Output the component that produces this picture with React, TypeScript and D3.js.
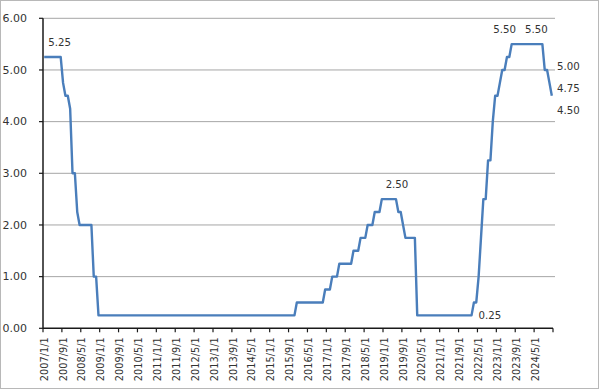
import React, { Component } from "react";
import * as d3 from "d3";

// month-end policy rate (upper bound), one array per year
const rates2007 = [5.25, 5.25, 5.25, 5.25, 5.25, 5.25, 5.25, 5.25, 4.75, 4.5, 4.5, 4.25];
const rates2008 = [3.0, 3.0, 2.25, 2.0, 2.0, 2.0, 2.0, 2.0, 2.0, 1.0, 1.0, 0.25];
const rates2009 = [0.25, 0.25, 0.25, 0.25, 0.25, 0.25, 0.25, 0.25, 0.25, 0.25, 0.25, 0.25];
const rates2010 = [0.25, 0.25, 0.25, 0.25, 0.25, 0.25, 0.25, 0.25, 0.25, 0.25, 0.25, 0.25];
const rates2011 = [0.25, 0.25, 0.25, 0.25, 0.25, 0.25, 0.25, 0.25, 0.25, 0.25, 0.25, 0.25];
const rates2012 = [0.25, 0.25, 0.25, 0.25, 0.25, 0.25, 0.25, 0.25, 0.25, 0.25, 0.25, 0.25];
const rates2013 = [0.25, 0.25, 0.25, 0.25, 0.25, 0.25, 0.25, 0.25, 0.25, 0.25, 0.25, 0.25];
const rates2014 = [0.25, 0.25, 0.25, 0.25, 0.25, 0.25, 0.25, 0.25, 0.25, 0.25, 0.25, 0.25];
const rates2015 = [0.25, 0.25, 0.25, 0.25, 0.25, 0.25, 0.25, 0.25, 0.25, 0.25, 0.25, 0.5];
const rates2016 = [0.5, 0.5, 0.5, 0.5, 0.5, 0.5, 0.5, 0.5, 0.5, 0.5, 0.5, 0.75];
const rates2017 = [0.75, 0.75, 1.0, 1.0, 1.0, 1.25, 1.25, 1.25, 1.25, 1.25, 1.25, 1.5];
const rates2018 = [1.5, 1.5, 1.75, 1.75, 1.75, 2.0, 2.0, 2.0, 2.25, 2.25, 2.25, 2.5];
const rates2019 = [2.5, 2.5, 2.5, 2.5, 2.5, 2.5, 2.25, 2.25, 2.0, 1.75, 1.75, 1.75];
const rates2020 = [1.75, 1.75, 0.25, 0.25, 0.25, 0.25, 0.25, 0.25, 0.25, 0.25, 0.25, 0.25];
const rates2021 = [0.25, 0.25, 0.25, 0.25, 0.25, 0.25, 0.25, 0.25, 0.25, 0.25, 0.25, 0.25];
const rates2022 = [0.25, 0.25, 0.5, 0.5, 1.0, 1.75, 2.5, 2.5, 3.25, 3.25, 4.0, 4.5];
const rates2023 = [4.5, 4.75, 5.0, 5.0, 5.25, 5.25, 5.5, 5.5, 5.5, 5.5, 5.5, 5.5];
const rates2024 = [5.5, 5.5, 5.5, 5.5, 5.5, 5.5, 5.5, 5.5, 5.0, 5.0, 4.75, 4.5];

const years = [2007, 2008, 2009, 2010, 2011, 2012, 2013, 2014, 2015, 2016, 2017, 2018, 2019, 2020, 2021, 2022, 2023, 2024];
const yearlyRates = [rates2007, rates2008, rates2009, rates2010, rates2011, rates2012, rates2013, rates2014, rates2015,
    rates2016, rates2017, rates2018, rates2019, rates2020, rates2021, rates2022, rates2023, rates2024];
const monthNums = [1, 2, 3, 4, 5, 6, 7, 8, 9, 10, 11, 12];

const categories = years.flatMap((y) => monthNums.map((m) => y + "/" + m + "/1"));
const values = yearlyRates.flat();

const xTickLabels = ["2007/1/1", "2007/9/1", "2008/5/1", "2009/1/1", "2009/9/1", "2010/5/1", "2011/1/1",
    "2011/9/1", "2012/5/1", "2013/1/1", "2013/9/1", "2014/5/1", "2015/1/1", "2015/9/1", "2016/5/1",
    "2017/1/1", "2017/9/1", "2018/5/1", "2019/1/1", "2019/9/1", "2020/5/1", "2021/1/1", "2021/9/1",
    "2022/5/1", "2023/1/1", "2023/9/1", "2024/5/1"];
const yTicks = [0, 1, 2, 3, 4, 5, 6];

// labelled points
const labelCats = ["2007/8/1", "2019/6/1", "2023/7/1", "2024/8/1"];
const lowLabelCat = "2022/2/1";
const endLabels = ["5.00", "4.75", "4.50"];

const FONT = "'DejaVu Sans', Verdana, sans-serif";

export default class App extends Component {
    node: SVGSVGElement | null = null;

    componentDidMount() {
        this.width = 600;
        this.height = 392;
        this.plot = {left: 43, right: 553, top: 18.3, bottom: 328.3};

        const xScale = d3.scaleBand<string>()
            .domain(categories)
            .range([this.plot.left, this.plot.right])
            .padding(0);
        const yScale = d3.scaleLinear()
            .domain([0, 6])
            .range([this.plot.bottom, this.plot.top]);
        const cx = (c: string) => (xScale(c) as number) + xScale.bandwidth() / 2;

        const svg = d3.select(this.node);
        svg.selectAll("*").remove();

        //chart area border
        svg.append("rect")
            .attr("x", 0.5).attr("y", 0.5)
            .attr("width", 598).attr("height", 388)
            .attr("fill", "#fff")
            .attr("stroke", "#b8b8b8");

        //gridlines
        svg.append("g").selectAll("line")
            .data(yTicks.filter((t) => t > 0))
            .enter().append("line")
            .attr("x1", this.plot.left).attr("x2", this.plot.right + 2)
            .attr("y1", (d) => yScale(d)).attr("y2", (d) => yScale(d))
            .attr("stroke", "#a6a6a6").attr("stroke-width", 1);

        //y axis
        const yAxis = svg.append("g");
        yAxis.append("line")
            .attr("x1", this.plot.left).attr("x2", this.plot.left)
            .attr("y1", this.plot.top).attr("y2", this.plot.bottom)
            .attr("stroke", "#1a1a1a").attr("stroke-width", 1.5);
        yAxis.selectAll("line.tick")
            .data(yTicks)
            .enter().append("line")
            .attr("class", "tick")
            .attr("x1", this.plot.left - 4).attr("x2", this.plot.left)
            .attr("y1", (d) => yScale(d)).attr("y2", (d) => yScale(d))
            .attr("stroke", "#1a1a1a").attr("stroke-width", 1.2);
        yAxis.selectAll("text")
            .data(yTicks)
            .enter().append("text")
            .attr("x", 27)
            .attr("y", (d) => yScale(d))
            .attr("dy", "0.35em")
            .attr("text-anchor", "end")
            .attr("font-family", FONT)
            .attr("font-size", 11)
            .attr("fill", "#333")
            .text((d) => d3.format(".2f")(d));

        //x axis
        const tickCats = categories.filter((c, i) => i % 8 === 0);
        const xAxis = svg.append("g");
        xAxis.append("line")
            .attr("x1", this.plot.left).attr("x2", this.plot.right)
            .attr("y1", this.plot.bottom).attr("y2", this.plot.bottom)
            .attr("stroke", "#1a1a1a").attr("stroke-width", 1.5);
        xAxis.selectAll("line.tick")
            .data([...tickCats.map((c) => xScale(c) as number), this.plot.right])
            .enter().append("line")
            .attr("class", "tick")
            .attr("x1", (d) => d).attr("x2", (d) => d)
            .attr("y1", this.plot.bottom).attr("y2", this.plot.bottom + 4)
            .attr("stroke", "#1a1a1a").attr("stroke-width", 1.2);
        xAxis.selectAll("text")
            .data(xTickLabels)
            .enter().append("text")
            .attr("transform", (d, i) => "translate(" + cx(tickCats[i]) + "," + (this.plot.bottom + 9) + ") rotate(-90)")
            .attr("dy", "0.35em")
            .attr("text-anchor", "end")
            .attr("font-family", FONT)
            .attr("font-size", 9.8)
            .attr("fill", "#333")
            .text((d) => d);

        //line
        const line = d3.line<number>()
            .x((d, i) => cx(categories[i]))
            .y((d) => yScale(d));
        svg.append("path")
            .datum(values)
            .attr("d", line)
            .attr("fill", "none")
            .attr("stroke", "#4a7ebb")
            .attr("stroke-width", 2.4)
            .attr("stroke-linejoin", "round");

        //data labels above peaks
        const labelDx = [-1, 1, -7, -6];
        svg.append("g").selectAll("text")
            .data(labelCats)
            .enter().append("text")
            .attr("x", (d, i) => cx(d) + labelDx[i])
            .attr("y", (d) => yScale(values[categories.indexOf(d)]) - 11)
            .attr("text-anchor", "middle")
            .attr("font-family", FONT)
            .attr("font-size", 10.2)
            .attr("fill", "#333")
            .text((d) => d3.format(".2f")(values[categories.indexOf(d)]));

        svg.append("text")
            .attr("x", cx(lowLabelCat) + 7)
            .attr("y", yScale(values[categories.indexOf(lowLabelCat)]))
            .attr("dy", "0.35em")
            .attr("font-family", FONT)
            .attr("font-size", 10.2)
            .attr("fill", "#333")
            .text(d3.format(".2f")(values[categories.indexOf(lowLabelCat)]));

        //stacked labels at the end of the line
        svg.append("g").selectAll("text")
            .data(endLabels)
            .enter().append("text")
            .attr("x", this.plot.right + 4)
            .attr("y", (d, i) => 66 + i * 22)
            .attr("dy", "0.35em")
            .attr("font-family", FONT)
            .attr("font-size", 10.2)
            .attr("fill", "#333")
            .text((d) => d);
    }

    render() {
        return (
            <svg ref={(n) => { this.node = n; }} width={600} height={392}
                 style={{position: "absolute", left: 0, top: 0, background: "#fff"}}/>
        );
    }
}
